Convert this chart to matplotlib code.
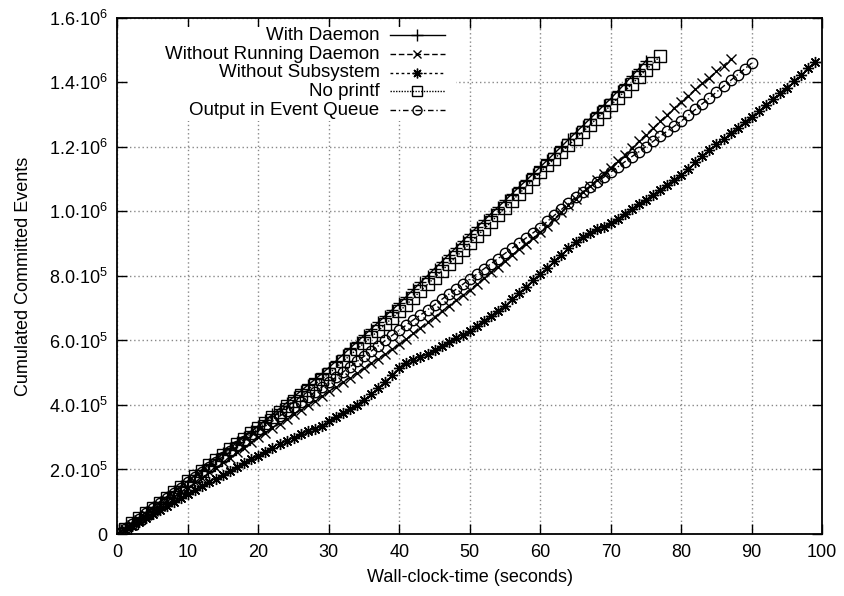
import matplotlib
matplotlib.use('Agg')
import matplotlib.pyplot as plt
from matplotlib.lines import Line2D
from matplotlib.patches import Rectangle

plt.rcParams['font.family'] = ['Liberation Sans', 'DejaVu Sans']
plt.rcParams['mathtext.fontset'] = 'custom'
plt.rcParams['mathtext.rm'] = 'Liberation Sans'
plt.rcParams['mathtext.it'] = 'Liberation Sans'

# cumulated committed events, in thousands, one value per second
with_daemon = [
    0, 18, 34, 51, 67, 83, 100, 116, 132, 149, 165,
    182, 199, 216, 233, 250, 267, 284, 301, 318, 335,
    353, 371, 389, 407, 425, 443, 461, 479, 497, 516,
    536, 556, 576, 596, 616, 636, 656, 676, 695, 715,
    736, 758, 780, 801, 823, 844, 866, 887, 909, 930,
    951, 972, 993, 1013, 1034, 1055, 1076, 1096, 1117, 1138,
    1159, 1180, 1201, 1223, 1244, 1265, 1286, 1307, 1329, 1350,
    1373, 1396, 1420, 1443, 1467]

without_running = [
    0, 15, 29, 44, 58, 72, 87, 101, 115, 130, 144,
    160, 175, 191, 206, 222, 237, 253, 268, 284, 300,
    314, 328, 342, 356, 371, 385, 399, 413, 428, 442,
    456, 471, 485, 500, 514, 529, 544, 558, 573, 588,
    605, 622, 639, 656, 673, 690, 707, 724, 740, 757,
    775, 793, 811, 829, 846, 864, 882, 900, 918, 935,
    956, 977, 998, 1019, 1040, 1059, 1078, 1097, 1116, 1135,
    1156, 1176, 1197, 1217, 1238, 1258, 1279, 1299, 1320, 1340,
    1359, 1378, 1397, 1415, 1434, 1452, 1471]

without_subsystem = [
    0, 13, 25, 38, 50, 63, 75, 88, 100, 113, 125,
    137, 149, 160, 172, 184, 196, 208, 219, 231, 243,
    255, 266, 278, 289, 299, 309, 318, 326, 334, 350,
    362, 374, 386, 399, 414, 433, 452, 472, 494, 516,
    530, 540, 549, 557, 571, 583, 595, 607, 618, 630,
    645, 660, 676, 692, 708, 727, 747, 767, 786, 806,
    826, 846, 866, 886, 906, 920, 933, 945, 953, 965,
    977, 993, 1009, 1024, 1035, 1050, 1066, 1082, 1097, 1112,
    1132, 1152, 1172, 1190, 1208, 1225, 1242, 1259, 1277, 1294,
    1312, 1330, 1348, 1366, 1384, 1404, 1424, 1444, 1464]

no_printf = [
    0, 17, 33, 49, 65, 81, 97, 113, 129, 147, 163,
    180, 196, 213, 229, 246, 262, 279, 295, 312, 328,
    345, 362, 379, 396, 413, 430, 447, 464, 480, 497,
    516, 535, 554, 573, 592, 611, 630, 650, 670, 690,
    711, 732, 753, 774, 795, 816, 837, 858, 880, 901,
    923, 945, 967, 989, 1011, 1033, 1055, 1077, 1100, 1122,
    1143, 1163, 1184, 1205, 1225, 1246, 1267, 1287, 1308, 1329,
    1351, 1373, 1395, 1417, 1439, 1460, 1481]

event_queue = [
    0, 16, 32, 48, 64, 80, 96, 112, 128, 144, 160,
    176, 192, 208, 224, 240, 256, 272, 288, 304, 320,
    335, 350, 365, 380, 395, 410, 425, 440, 455, 470,
    486, 502, 518, 535, 551, 567, 583, 600, 616, 632,
    648, 664, 679, 695, 711, 727, 743, 758, 774, 790,
    806, 822, 838, 854, 870, 886, 902, 918, 934, 950,
    969, 988, 1006, 1025, 1044, 1060, 1075, 1091, 1106, 1122,
    1138, 1154, 1170, 1185, 1201, 1217, 1233, 1249, 1264, 1280,
    1298, 1316, 1334, 1352, 1370, 1388, 1406, 1424, 1442, 1460]

labels = ['With Daemon', 'Without Running Daemon', 'Without Subsystem',
          'No printf', 'Output in Event Queue']

y_ticks = [0, 2e5, 4e5, 6e5, 8e5, 1e6, 1.2e6, 1.4e6, 1.6e6]
y_ticklabels = ['0', r'2.0$\cdot$10$^5$', r'4.0$\cdot$10$^5$', r'6.0$\cdot$10$^5$',
                r'8.0$\cdot$10$^5$', r'1.0$\cdot$10$^6$', r'1.2$\cdot$10$^6$',
                r'1.4$\cdot$10$^6$', r'1.6$\cdot$10$^6$']

series = [with_daemon, without_running, without_subsystem, no_printf, event_queue]
styles = [
    dict(linestyle='-', marker='+', markersize=9),
    dict(linestyle=(0, (4, 2)), marker='x', markersize=7),
    dict(linestyle=(0, (2, 2)), marker=(8, 2, 0), markersize=8),
    dict(linestyle=(0, (1, 1)), marker='s', markersize=8, markerfacecolor='none'),
    dict(linestyle=(0, (4, 2, 1, 2)), marker='o', markersize=7.5, markerfacecolor='none'),
]

fs = 13

fig = plt.figure(figsize=(8.45, 5.96), dpi=100)
ax = fig.add_axes([0.139, 0.104, 0.834, 0.866])
ax.set_axisbelow(True)

for vals, lab, st in zip(series, labels, styles):
    xs = list(range(len(vals)))
    ys = [v * 1000 for v in vals]
    ax.plot(xs, ys, color='black', linewidth=1.0, markeredgewidth=1.0,
            label=lab, zorder=3, **st)

ax.set_xlim(0, 100)
ax.set_ylim(0, 1.6e6)
ax.set_xticks(range(0, 101, 10))
ax.set_yticks(y_ticks)
ax.set_yticklabels(y_ticklabels)
ax.tick_params(direction='in', length=7, width=1, top=True, right=True,
               labelsize=fs, pad=7)
ax.grid(True, color='#888888', linestyle=(0, (1, 2)), linewidth=1)
for s in ax.spines.values():
    s.set_linewidth(1.3)
    s.set_zorder(4)

ax.set_xlabel('Wall-clock-time (seconds)', fontsize=fs, labelpad=6)
ax.set_ylabel('Cumulated Committed Events', fontsize=fs, labelpad=12)

# gnuplot style key: opaque box, right aligned text, sample to the right
ax.add_patch(Rectangle((0.015, 0.80), 0.465, 0.183, transform=ax.transAxes,
                       facecolor='white', edgecolor='none', zorder=2))
for i, (lab, st) in enumerate(zip(labels, styles)):
    yk = 0.966 - i * 0.0362
    ax.text(0.372, yk, lab, transform=ax.transAxes, ha='right', va='center',
            fontsize=13.5, zorder=5)
    ax.add_line(Line2D([0.3865, 0.4645], [yk, yk], transform=ax.transAxes,
                       color='black', linewidth=1.0, linestyle=st['linestyle'],
                       zorder=5))
    ax.add_line(Line2D([0.4255], [yk], transform=ax.transAxes, color='black',
                       linestyle='none', marker=st['marker'],
                       markersize=st['markersize'] - 1, markeredgewidth=1.0,
                       markerfacecolor=st.get('markerfacecolor', 'black'),
                       zorder=5))

fig.savefig('out.png', dpi=100)
